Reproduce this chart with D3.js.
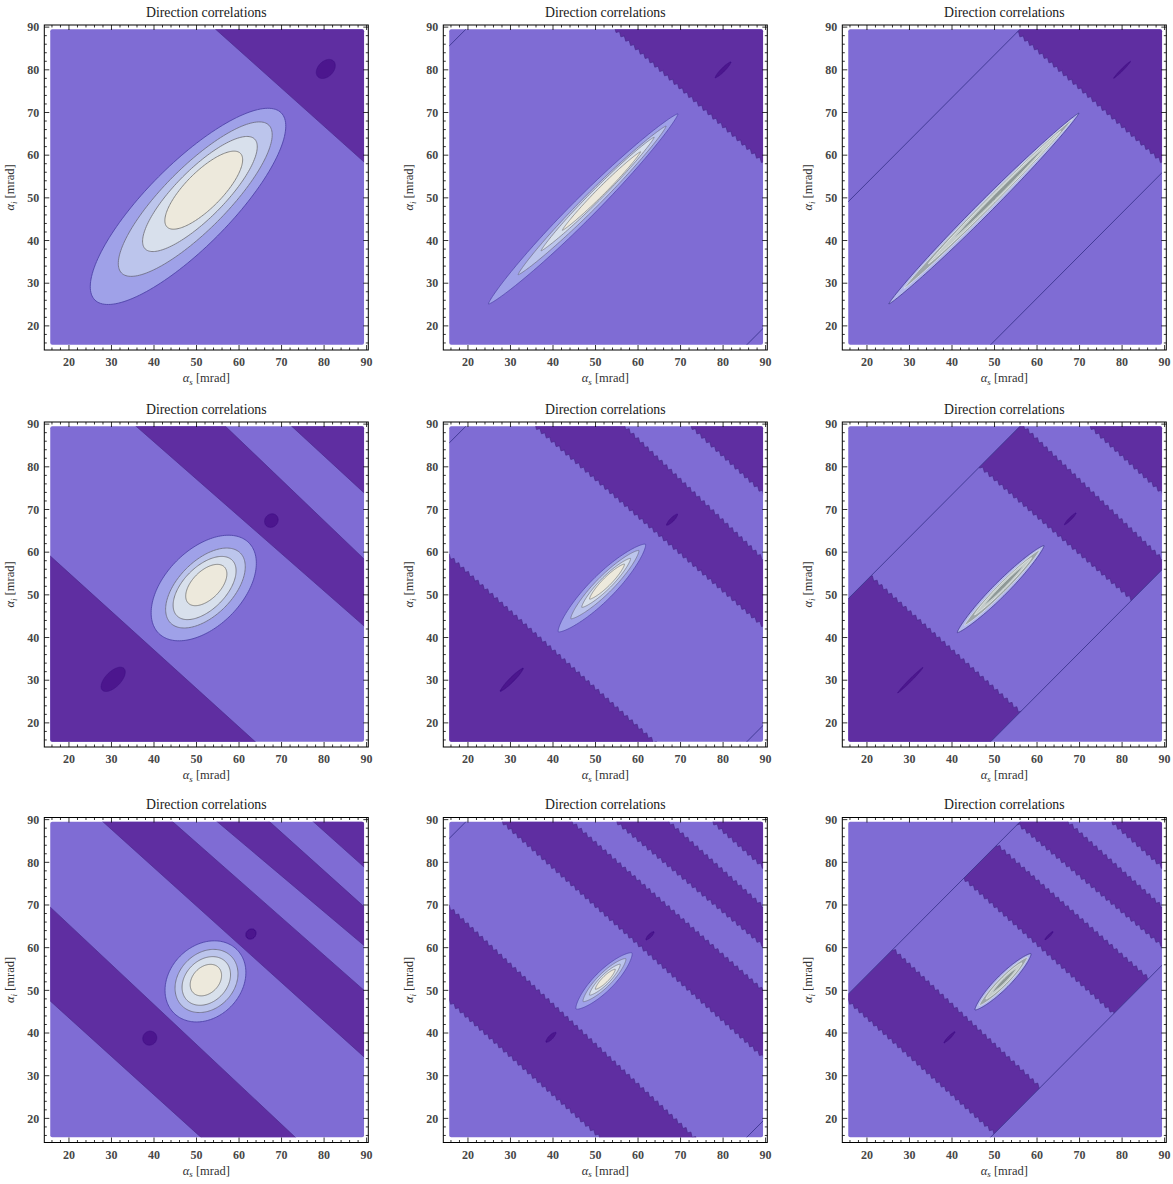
<!DOCTYPE html>
<html><head><meta charset="utf-8">
<script src="https://cdn.jsdelivr.net/npm/d3@7"></script>
<style>body{margin:0;background:#fff}</style>
</head><body><svg id="c" width="1173" height="1184"></svg>
<script>
// ---------- data ----------
const title = "Direction correlations";
const xTicks = [20,30,40,50,60,70,80,90];
const yTicks = [20,30,40,50,60,70,80,90];
const xDomain = [14.2, 90.4];
const yDomain = [14.35, 90.5];
const dataRegion = [15.6, 89.4, 15.6, 89.5]; // xmin,xmax,ymin,ymax

// dark bands: boundaries given by two points [x,y] on the plot edges (lo = lower-left edge, hi = upper-right edge)
const bandsRow1 = [
  {lo: [[54.5,89.5],[89.4,58.4]], hi: null}
];
const bandsRow2 = [
  {lo: null, hi: [[15.6,59.1],[63.8,15.6]]},
  {lo: [[35.8,89.5],[89.4,42.7]], hi: [[56.8,89.5],[89.4,58.4]]},
  {lo: [[72.4,89.5],[89.4,73.9]], hi: null}
];
const bandsRow3 = [
  {lo: [[15.6,47.5],[51.0,15.6]], hi: [[15.6,69.5],[73.2,15.6]]},
  {lo: [[28.0,89.5],[89.4,34.4]], hi: [[44.4,89.5],[89.4,50.0]]},
  {lo: [[54.9,89.5],[89.4,60.5]], hi: [[67.2,89.5],[89.4,69.6]]},
  {lo: [[77.5,89.5],[89.4,78.9]], hi: null}
];
const panelBands = [bandsRow1,bandsRow1,bandsRow1,bandsRow2,bandsRow2,bandsRow2,bandsRow3,bandsRow3,bandsRow3];
// panel style: 0 smooth, 1 jagged, 2 jagged + diagonal strip mask
const panelKind = [0,1,2,0,1,2,0,1,2];
const stripHalfWidth = 33.5;   // |y - x| < 33.5 for masked panels
const cornerLineOffset = 70;   // y = x ± 70 lines in jagged panels

// central contour levels: [cx, cy, a (along +45°), b]
const levels = [
  [[48.0,48.0,31.0,9.8],[49.7,49.7,24.5,7.4],[50.8,50.9,18.2,5.7],[51.7,51.8,12.2,4.3]],
  [[47.1,47.4,31.5,2.6],[49.2,49.4,24.6,1.8],[50.5,50.9,18.8,1.3],[51.4,51.6,13.0,0.9]],
  [[47.5,47.5,31.6,1.6],[48.5,48.6,28.0,1.1],[50.0,50.1,22.0,0.75],[51.0,51.1,15.0,0.45]],
  [[51.7,51.6,15.0,9.0],[52.1,51.6,11.6,6.4],[51.9,51.6,9.2,5.0],[52.3,52.3,6.0,3.3]],
  [[51.5,51.6,14.5,2.9],[52.2,52.4,11.3,2.0],[52.5,52.8,8.1,1.4],[52.7,53.1,5.8,1.0]],
  [[51.45,51.35,14.4,1.65],[51.8,51.7,12.5,1.1],[52.0,52.0,9.5,0.7],[52.2,52.2,6.5,0.4]],
  [[52.1,52.1,10.5,8.4],[52.35,52.2,8.2,6.5],[52.3,52.2,6.4,4.9],[52.2,52.4,4.2,3.1]],
  [[52.0,52.2,9.3,2.3],[52.1,52.4,7.1,1.6],[52.2,52.5,5.1,1.1],[52.3,52.6,3.3,0.7]],
  [[52.0,52.0,9.3,1.6],[52.1,52.1,8.0,1.1],[52.2,52.2,6.0,0.7],[52.3,52.3,4.0,0.4]]
];
// darkest spots: [cx, cy, a, b]
const spots = [
  [[80.4,80.2,2.6,1.8]],
  [[80.0,80.0,2.6,0.45]],
  [[80.0,80.0,2.8,0.25]],
  [[67.6,67.4,1.7,1.5],[30.4,30.2,3.6,1.8]],
  [[68.0,67.6,1.8,0.45],[30.3,30.1,3.8,0.55]],
  [[67.8,67.8,1.9,0.3],[30.2,30.0,4.2,0.3]],
  [[39.0,38.8,1.7,1.6],[62.8,63.2,1.3,1.1]],
  [[39.5,39.0,1.6,0.5],[62.8,62.8,1.3,0.4]],
  [[39.4,39.0,1.8,0.3],[62.8,62.8,1.3,0.25]]
];

// ---------- style ----------
const colBg = "#7f6cd4", colBand = "#5f2ea1", colSpot = "#4c168e";
const levelFill = ["#9fa1e8","#bcc5ec","#d8e0ec","#ede9dc"];
const levelStroke = ["#4f44a8","#707088","#767680","#7a7a7a"];
const grayFill = ["#b4b8ec","#9ea6a8","#c4ccca","#8e9896"];
const grayStroke = ["#3a3488","#e6eef0","#f2f6f4","#d8e0e0"];
const colLefts = [44.3, 443.3, 842.3];
const rowTops = [25, 422, 817.5];
const W = 324, H = 325;

const svg = d3.select("#c");
const x = d3.scaleLinear().domain(xDomain).range([0, W]);
const y = d3.scaleLinear().domain(yDomain).range([H, 0]);
const S2 = Math.SQRT1_2;

function ellipsePts(e, p) {
  const [cx, cy, a, b] = e, pts = [];
  for (let i = 0; i < 160; i++) {
    const t = i / 160 * 2 * Math.PI;
    const u = a * Math.cos(t);
    const s = Math.sin(t);
    const v = b * Math.sign(s) * Math.pow(Math.abs(s), p);
    pts.push([x(cx + (u - v) * S2), y(cy + (u + v) * S2)]);
  }
  return pts;
}
const lineGen = d3.line().curve(d3.curveLinearClosed);

function linePx(P1, P2, jag) {
  const dx = P2[0]-P1[0], dy = P2[1]-P1[1], L = Math.hypot(dx,dy);
  const ux = dx/L, uy = dy/L, E = 40;
  const A = [x(P1[0]-ux*E), y(P1[1]-uy*E)], B = [x(P2[0]+ux*E), y(P2[1]+uy*E)];
  if (!jag) return [A, B];
  const Lp = Math.hypot(B[0]-A[0], B[1]-A[1]);
  const tx = (B[0]-A[0])/Lp, ty = (B[1]-A[1])/Lp, nx = -ty, ny = tx;
  const per = 6.5, amp = 3.0, pts = [];
  for (let s = 0; s <= Lp; s += per) {
    pts.push([A[0]+tx*s - nx*amp/2, A[1]+ty*s - ny*amp/2]);
    const s2 = s + per*0.7;
    pts.push([A[0]+tx*s2 + nx*amp/2, A[1]+ty*s2 + ny*amp/2]);
  }
  return pts;
}

function bandPoly(band, jag) {
  let pts;
  if (band.lo && band.hi) {
    pts = linePx(band.lo[0], band.lo[1], jag).concat(linePx(band.hi[0], band.hi[1], jag).reverse());
  } else if (band.lo) {
    const l = linePx(band.lo[0], band.lo[1], jag);
    pts = l.concat([[l[l.length-1][0]+400, l[l.length-1][1]-400],[l[0][0]+400,l[0][1]-400]]);
  } else {
    const h = linePx(band.hi[0], band.hi[1], jag);
    pts = [[h[0][0]-400,h[0][1]+400],[h[h.length-1][0]-400,h[h.length-1][1]+400]].concat(h.slice().reverse());
  }
  return pts;
}

const defs = svg.append("defs");
const font = "'Liberation Serif', 'DejaVu Serif', serif";

for (let k = 0; k < 9; k++) {
  const col = k % 3, row = Math.floor(k / 3), kind = panelKind[k];
  const g = svg.append("g").attr("transform", `translate(${colLefts[col]},${rowTops[row]})`);

  defs.append("clipPath").attr("id", "clip"+k).append("rect")
    .attr("x", x(dataRegion[0])).attr("y", y(dataRegion[3]))
    .attr("width", x(dataRegion[1]) - x(dataRegion[0]))
    .attr("height", y(dataRegion[2]) - y(dataRegion[3])).attr("rx", 2);
  if (kind === 2) {
    const h = stripHalfWidth;
    const poly = [[0, h],[0,-h],[120,120-h],[120,120+h]].map(d => [x(d[0]), y(d[1])]);
    defs.append("clipPath").attr("id", "strip"+k).append("path").attr("d", lineGen(poly));
  }

  const plot = g.append("g").attr("clip-path", `url(#clip${k})`);
  plot.append("rect").attr("x", 0).attr("y", 0).attr("width", W).attr("height", H).attr("fill", colBg);

  const bandG = plot.append("g");
  if (kind === 2) bandG.attr("clip-path", `url(#strip${k})`);
  bandG.selectAll("path.band").data(panelBands[k]).join("path")
    .attr("class", "band")
    .attr("d", d => lineGen(bandPoly(d, kind > 0)))
    .attr("fill", colBand).attr("stroke", "#4a2a8c").attr("stroke-width", 0.7);

  const offs = kind === 2 ? [stripHalfWidth, -stripHalfWidth] : (kind === 1 ? [cornerLineOffset, -cornerLineOffset] : []);
  plot.selectAll("line.diag").data(offs).join("line").attr("class", "diag")
    .attr("x1", d => x(0)).attr("y1", d => y(d))
    .attr("x2", d => x(120)).attr("y2", d => y(120 + d))
    .attr("stroke", "#3c3690").attr("stroke-width", 0.9);

  plot.selectAll("path.spot").data(spots[k]).join("path").attr("class", "spot")
    .attr("d", d => lineGen(ellipsePts(d, kind === 0 ? 1 : 1.3)))
    .attr("fill", colSpot).attr("stroke", "#3e1280").attr("stroke-width", 0.5);

  const p = kind === 0 ? 1 : 1.4;
  const fills = kind === 2 ? grayFill : levelFill;
  const strokes = kind === 2 ? grayStroke : levelStroke;
  plot.selectAll("path.lvl").data(levels[k]).join("path").attr("class", "lvl")
    .attr("d", d => lineGen(ellipsePts(d, p)))
    .attr("fill", (d, i) => fills[i]).attr("stroke", (d, i) => strokes[i])
    .attr("stroke-width", kind === 0 ? 0.9 : 0.7);

  g.append("rect").attr("x", 0).attr("y", 0).attr("width", W).attr("height", H)
    .attr("fill", "none").attr("stroke", "#000").attr("stroke-width", 1);

  const minors = d3.range(16, 90.1, 2).filter(v => v % 10 !== 0);
  const tk = g.append("g").attr("stroke", "#000").attr("stroke-width", 0.8);
  xTicks.forEach(v => {
    tk.append("line").attr("x1", x(v)).attr("x2", x(v)).attr("y1", H).attr("y2", H-5);
    tk.append("line").attr("x1", x(v)).attr("x2", x(v)).attr("y1", 0).attr("y2", 5);
  });
  yTicks.forEach(v => {
    tk.append("line").attr("y1", y(v)).attr("y2", y(v)).attr("x1", 0).attr("x2", 5);
    tk.append("line").attr("y1", y(v)).attr("y2", y(v)).attr("x1", W).attr("x2", W-5);
  });
  minors.forEach(v => {
    tk.append("line").attr("x1", x(v)).attr("x2", x(v)).attr("y1", H).attr("y2", H-2.5);
    tk.append("line").attr("x1", x(v)).attr("x2", x(v)).attr("y1", 0).attr("y2", 2.5);
    tk.append("line").attr("y1", y(v)).attr("y2", y(v)).attr("x1", 0).attr("x2", 2.5);
    tk.append("line").attr("y1", y(v)).attr("y2", y(v)).attr("x1", W).attr("x2", W-2.5);
  });

  g.selectAll("text.xt").data(xTicks).join("text").attr("class", "xt")
    .attr("x", d => x(d)).attr("y", H + 16).attr("text-anchor", "middle")
    .attr("font-family", font).attr("font-size", 12).attr("font-weight", "bold").attr("fill", "#474747")
    .text(d => d);
  g.selectAll("text.yt").data(yTicks).join("text").attr("class", "yt")
    .attr("x", -5).attr("y", d => y(d) + 4.2).attr("text-anchor", "end")
    .attr("font-family", font).attr("font-size", 12).attr("font-weight", "bold").attr("fill", "#474747")
    .text(d => d);

  g.append("text").attr("x", W/2).attr("y", -8.5).attr("text-anchor", "middle")
    .attr("font-family", font).attr("font-size", 13.8).attr("fill", "#1a1a1a").text(title);

  const xl = g.append("text").attr("x", W/2).attr("y", H + 32).attr("text-anchor", "middle")
    .attr("font-family", font).attr("font-size", 12.5).attr("fill", "#333");
  xl.append("tspan").attr("font-style", "italic").text("α");
  xl.append("tspan").attr("font-style", "italic").attr("font-size", 9).attr("dy", 2.5).text("s");
  xl.append("tspan").attr("dy", -2.5).text(" [mrad]");

  const yl = g.append("text").attr("transform", `translate(-30,${H/2}) rotate(-90)`).attr("text-anchor", "middle")
    .attr("font-family", font).attr("font-size", 12.5).attr("fill", "#333");
  yl.append("tspan").attr("font-style", "italic").text("α");
  yl.append("tspan").attr("font-style", "italic").attr("font-size", 9).attr("dy", 2.5).text("i");
  yl.append("tspan").attr("dy", -2.5).text(" [mrad]");
}
</script>
</body></html>
